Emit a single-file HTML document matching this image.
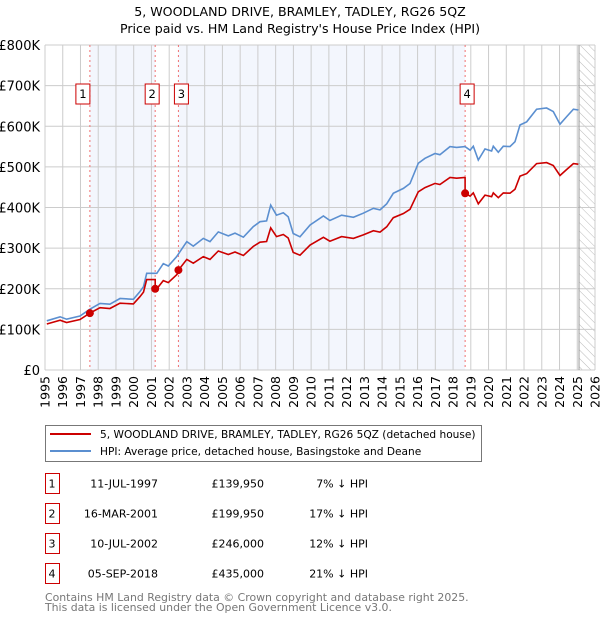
<!DOCTYPE html>
<html><head><meta charset="utf-8"><style>
body{margin:0;background:#fff;}
svg text{font-family:"DejaVu Sans","Liberation Sans",sans-serif;}
</style></head><body>
<svg id="c" width="600" height="620" xmlns="http://www.w3.org/2000/svg">
<defs><pattern id="hatch" width="6" height="6" patternUnits="userSpaceOnUse" patternTransform="rotate(-45)"><line x1="0" y1="0" x2="0" y2="6" stroke="#bbb" stroke-width="1"/></pattern></defs>
<text x="300" y="16" text-anchor="middle" font-size="12.6">5, WOODLAND DRIVE, BRAMLEY, TADLEY, RG26 5QZ</text>
<text x="300" y="33" text-anchor="middle" font-size="12.6">Price paid vs. HM Land Registry's House Price Index (HPI)</text>
<g id="plot"></g>
<g>
<rect x="45.5" y="425.5" width="436" height="36" fill="#fff" stroke="#777"/>
<line x1="50" y1="434" x2="91" y2="434" stroke="#cc0000" stroke-width="2"/>
<text x="100" y="438" font-size="10.6">5, WOODLAND DRIVE, BRAMLEY, TADLEY, RG26 5QZ (detached house)</text>
<line x1="50" y1="451" x2="91" y2="451" stroke="#5b8fd0" stroke-width="2"/>
<text x="100" y="455" font-size="10.6">HPI: Average price, detached house, Basingstoke and Deane</text>
</g>
<g id="table" font-size="11"></g>
<text x="45" y="601" font-size="10.9" fill="#777">Contains HM Land Registry data © Crown copyright and database right 2025.</text>
<text x="45" y="611" font-size="10.9" fill="#777">This data is licensed under the Open Government Licence v3.0.</text>
</svg>
<script>
const hpiYears=[1995.1,1995.85,1996.22,1996.97,1997.54,1998.1,1998.66,1999.23,1999.98,2000.35,2000.55,2000.73,2001.3,2001.67,2001.95,2002.42,2002.99,2003.36,2003.92,2004.3,2004.77,2005.33,2005.71,2006.18,2006.74,2007.12,2007.49,2007.72,2008.05,2008.43,2008.71,2008.99,2009.37,2009.94,2010.69,2011.06,2011.72,2012.38,2012.94,2013.51,2013.88,2014.26,2014.63,2015.2,2015.57,2016.04,2016.42,2016.98,2017.26,2017.83,2018.2,2018.67,2018.96,2019.14,2019.42,2019.8,2020.17,2020.27,2020.55,2020.83,2021.21,2021.49,2021.77,2022.15,2022.71,2023.27,2023.65,2024.03,2024.41,2024.78,2025.06];
const hpiValues=[121,131,125,133,150,164,162,176,174,193,205,238,238,262,256,279,316,305,324,316,340,330,337,327,353,365,367,406,381,387,377,336,328,357,379,368,381,376,386,398,394,409,435,447,459,509,521,533,530,550,548,550,541,551,517,544,539,551,536,551,550,562,603,611,642,645,636,605,624,642,640];
const saleYears=[1997.53,2001.21,2002.52,2018.68];
const salePrices=[139950,199950,246000,435000];
const saleDates=["11-JUL-1997","16-MAR-2001","10-JUL-2002","05-SEP-2018"];
const salePriceLabels=["£139,950","£199,950","£246,000","£435,000"];
const saleDiffs=["7% ↓ HPI","17% ↓ HPI","12% ↓ HPI","21% ↓ HPI"];
const yTicks=[0,100,200,300,400,500,600,700,800];
const yTickLabels=["£0","£100K","£200K","£300K","£400K","£500K","£600K","£700K","£800K"];
const xTicks=[1995,1996,1997,1998,1999,2000,2001,2002,2003,2004,2005,2006,2007,2008,2009,2010,2011,2012,2013,2014,2015,2016,2017,2018,2019,2020,2021,2022,2023,2024,2025,2026];

const NS="http://www.w3.org/2000/svg";
const X=y=>45+(y-1995)*(550/31);
const Y=v=>370-v*0.40625;
const plot=document.getElementById('plot');
function mk(tag,attrs,parent){const e=document.createElementNS(NS,tag);for(const k in attrs)e.setAttribute(k,attrs[k]);(parent||plot).appendChild(e);return e;}
function hpiAt(t){if(t<=hpiYears[0])return hpiValues[0];for(let i=1;i<hpiYears.length;i++){if(t<=hpiYears[i]){const f=(t-hpiYears[i-1])/(hpiYears[i]-hpiYears[i-1]);return hpiValues[i-1]+f*(hpiValues[i]-hpiValues[i-1]);}}return hpiValues[hpiValues.length-1];}

let e;
e=mk('rect',{x:X(saleYears[0]),y:Y(800),width:X(saleYears[1])-X(saleYears[0]),height:Y(0)-Y(800),fill:'#f3f6fd'});


e=mk('rect',{x:X(saleYears[2]),y:Y(800),width:X(saleYears[3])-X(saleYears[2]),height:Y(0)-Y(800),fill:'#f3f6fd'});


e=mk('rect',{x:X(2025.1),y:Y(800),width:X(2026)-X(2025.1),height:Y(0)-Y(800),fill:'url(#hatch)'});


xTicks.forEach((t,i)=>{
  const g=mk('line',{x1:X(t),x2:X(t),y1:Y(800),y2:Y(0),stroke:'#ccc','stroke-width':1});
  
  
  const tx=mk('text',{transform:`translate(${X(t)+4.5},376) rotate(-90)`,'text-anchor':'end','font-size':'12.5'});
  tx.textContent=t;
  
  
});
yTicks.forEach((v,i)=>{
  const g=mk('line',{x1:X(1995),x2:X(2026),y1:Y(v),y2:Y(v),stroke:'#ccc','stroke-width':1});
  
  
  const tx=mk('text',{x:40,y:Y(v)+5,'text-anchor':'end','font-size':'13'});
  tx.textContent=yTickLabels[i];
  
  
});
e=mk('line',{x1:X(2025.1),x2:X(2025.1),y1:Y(800),y2:Y(0),stroke:'#999','stroke-width':1});


saleYears.forEach((t,i)=>{
  const l=mk('line',{x1:X(t),x2:X(t),y1:Y(800),y2:Y(0),stroke:'#f07070','stroke-width':1,'stroke-dasharray':'2,3'});
  
  
  const bx=X(t)-(i==0?7:i==3?-2:i==1?3:-3);
  const r=mk('rect',{x:bx-7,y:84,width:14,height:20,fill:'#fff',stroke:'#cc0000'});
  
  
  const tx=mk('text',{x:bx,y:98,'text-anchor':'middle','font-size':'11.5'});
  tx.textContent=i+1;
  
  
});
let d=hpiYears.map((t,i)=>(i?'L':'M')+X(t).toFixed(1)+','+Y(hpiValues[i]).toFixed(1)).join('');
e=mk('path',{d:d,fill:'none',stroke:'#5b8fd0','stroke-width':1.6});


const ratios=saleYears.map((t,i)=>salePrices[i]/1000/hpiAt(t));
function ratioAt(t){let k=0;for(let i=0;i<saleYears.length;i++)if(t>=saleYears[i])k=i;return ratios[k];}
let pts=[];
hpiYears.forEach((t,i)=>{pts.push([t,hpiValues[i]*ratioAt(t)]);});
saleYears.forEach((t,i)=>{if(i>0)pts.push([t-0.001,hpiAt(t)*ratios[i-1]]);pts.push([t,salePrices[i]/1000]);});
pts.sort((a,b)=>a[0]-b[0]);
d=pts.map((p,i)=>(i?'L':'M')+X(p[0]).toFixed(1)+','+Y(p[1]).toFixed(1)).join('');
e=mk('path',{d:d,fill:'none',stroke:'#cc0000','stroke-width':1.6});


saleYears.forEach((t,i)=>{
  const c=mk('circle',{cx:X(t),cy:Y(salePrices[i]/1000),r:4,fill:'#cc0000'});
  
  
});
const tb=document.getElementById('table');
saleYears.forEach((t,i)=>{
  const cy=483+i*30;
  const r=mk('rect',{x:45.5,y:cy-9.5,width:14,height:20,fill:'#fff',stroke:'#cc0000'},tb);
  
  
  const vals=[[52,'middle',String(i+1)],[158,'end',saleDates[i]],[264,'end',salePriceLabels[i]],[368,'end',saleDiffs[i]]];
  const names=['number','date','price','hpi-diff'];
  vals.forEach((v,j)=>{
    const tx=mk('text',{x:v[0],y:cy+4.5,'text-anchor':v[1]},tb);
    tx.textContent=v[2];
    
    
  });
});
</script>
</body></html>
